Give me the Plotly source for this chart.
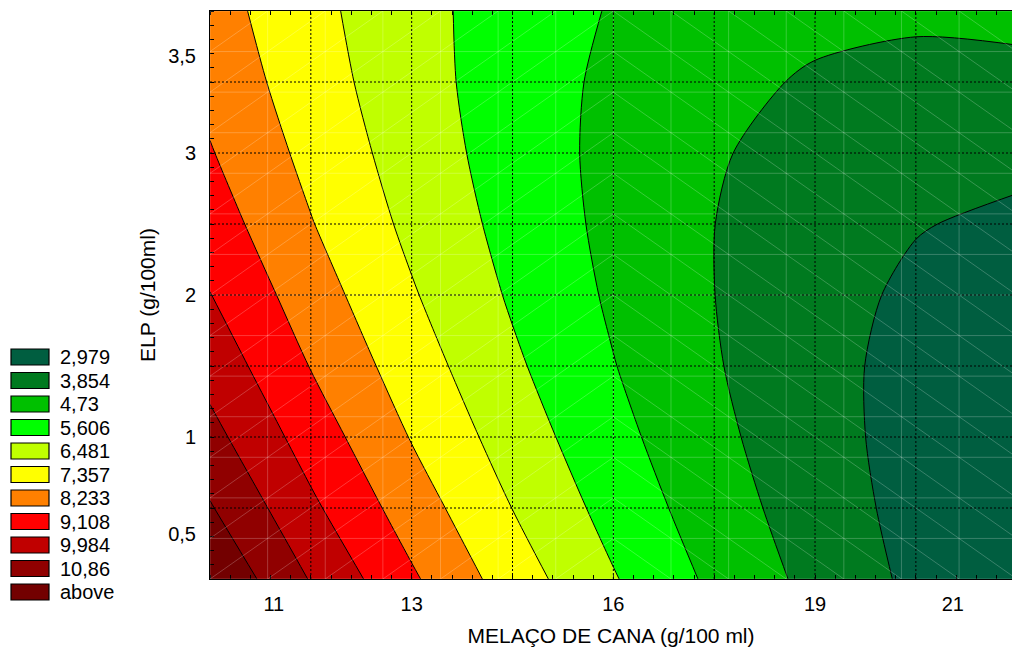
import plotly.graph_objects as go

# Sugar-cane molasses (g/100 ml) and ELP (g/100 ml) sampling grid
melaco = [10.0, 11.5, 13.0, 14.5, 16.0, 17.5, 19.0, 20.5, 22.0]
elp = [0.0, 0.5, 1.0, 1.5, 2.0, 2.5, 3.0, 3.5, 4.0]

# Response surface values, one row per ELP level (bottom to top)
resposta = [
    [11.67, 9.93, 8.36, 6.93, 5.67, 4.55, 3.60, 2.79, 2.15],
    [10.93, 9.28, 7.80, 6.47, 5.29, 4.27, 3.41, 2.70, 2.14],
    [10.26, 8.71, 7.31, 6.07, 4.99, 4.06, 3.29, 2.67, 2.21],
    [9.66, 8.20, 6.90, 5.75, 4.76, 3.92, 3.24, 2.71, 2.34],
    [9.13, 7.77, 6.56, 5.50, 4.60, 3.86, 3.27, 2.83, 2.55],
    [8.67, 7.40, 6.28, 5.32, 4.51, 3.86, 3.36, 3.02, 2.83],
    [8.29, 7.11, 6.08, 5.21, 4.49, 3.93, 3.53, 3.27, 3.18],
    [7.97, 6.88, 5.95, 5.17, 4.55, 4.08, 3.76, 3.60, 3.60],
    [7.73, 6.73, 5.89, 5.20, 4.67, 4.29, 4.07, 4.00, 4.09],
]

# Contour levels and legend entries
niveis = [2.979, 3.854, 4.73, 5.606, 6.481, 7.357, 8.233, 9.108, 9.984, 10.86]
legenda = ["2,979", "3,854", "4,73", "5,606", "6,481", "7,357",
           "8,233", "9,108", "9,984", "10,86", "above"]
cores = ["#005E40", "#007A1F", "#00C000", "#00FF00", "#C0FF00", "#FFFF00",
         "#FF8000", "#FF0000", "#C00000", "#900000", "#730000"]

# Axis labels (design points)
x_ticks = [10.95, 13, 16, 19, 21.05]
x_ticktext = ["11", "13", "16", "19", "21"]
y_ticks = [0.32, 1, 2, 3, 3.68]
y_ticktext = ["0,5", "1", "2", "3", "3,5"]

FONT = "Liberation Sans, Arial, sans-serif"
W, H = 1012, 652
ML, MR, MT, MB = 210, 0, 11, 73
X_RANGE = [10, 21.93]
Y_RANGE = [0, 4]

passo = (niveis[-1] - niveis[0]) / (len(niveis) - 1)
n = len(cores)
colorscale = []
for i, c in enumerate(cores):
    colorscale.append([i / n, c])
    colorscale.append([(i + 1) / n, c])

fig = go.Figure()
fig.add_trace(go.Contour(
    x=melaco, y=elp, z=resposta,
    zauto=False, zmin=niveis[0] - passo, zmax=niveis[-1] + passo,
    colorscale=colorscale, showscale=False,
    contours=dict(start=niveis[0], end=niveis[-1] + passo / 2,
                  size=passo, coloring="fill"),
    line=dict(color="black", width=1, smoothing=0.8),
    hoverinfo="x+y+z",
))

shapes = []

# Faint triangulated mesh of the surface (14 x 14 cells)
nx = ny = 14
x0, x1 = 10.0, 22.0
y0, y1 = 0.0, 4.0
dx = (x1 - x0) / nx
dy = (y1 - y0) / ny
path = []
for i in range(nx + 1):
    xv = x0 + i * dx
    path.append(f"M{xv},{y0}L{xv},{y1}")
for j in range(ny + 1):
    yv = y0 + j * dy
    path.append(f"M{x0},{yv}L{x1},{yv}")
for i in range(nx):
    for j in range(ny):
        xa = x0 + i * dx
        ya = y0 + j * dy
        if i < nx // 2:
            path.append(f"M{xa},{ya}L{xa + dx},{ya + dy}")
        else:
            path.append(f"M{xa},{ya + dy}L{xa + dx},{ya}")
shapes.append(dict(type="path", xref="x", yref="y", path="".join(path),
                   line=dict(color="rgba(255,255,255,0.22)", width=1),
                   layer="above"))

# Dotted major grid
for k in range(1, 8):
    xv = 10 + 1.5 * k
    shapes.append(dict(type="line", xref="x", yref="paper", x0=xv, x1=xv, y0=0, y1=1,
                       line=dict(color="black", width=1, dash="2px,2px"), layer="above"))
    yv = 0.5 * k
    shapes.append(dict(type="line", xref="paper", yref="y", x0=0, x1=1, y0=yv, y1=yv,
                       line=dict(color="black", width=1, dash="2px,2px"), layer="above"))

# Legend drawn in the left margin
pw = W - ML - MR
ph = H - MT - MB


def px_x(p):
    return (p - ML) / pw


def px_y(p):
    return 1 - (p - MT) / ph


annotations = []
for k, (lab, c) in enumerate(zip(legenda, cores)):
    cy = 357 + 23.5 * k
    shapes.append(dict(type="rect", xref="paper", yref="paper",
                       x0=px_x(11), x1=px_x(49), y0=px_y(cy + 8), y1=px_y(cy - 8),
                       fillcolor=c, line=dict(color="black", width=1.2), layer="above"))
    annotations.append(dict(xref="paper", yref="paper", x=px_x(58), y=px_y(cy),
                            text=lab, showarrow=False, xanchor="left", yanchor="middle",
                            font=dict(family=FONT, size=20, color="black")))

fig.update_layout(
    width=W, height=H,
    margin=dict(l=ML, r=MR, t=MT, b=MB, pad=0),
    paper_bgcolor="white", plot_bgcolor="white",
    showlegend=False,
    font=dict(family=FONT, size=20, color="black"),
    shapes=shapes,
    annotations=annotations,
    xaxis=dict(
        range=X_RANGE, tickmode="array", tickvals=x_ticks, ticktext=x_ticktext,
        ticks="", showgrid=False, zeroline=False,
        showline=True, linecolor="black", linewidth=1, mirror="ticks",
        ticklabelstandoff=7,
        tickfont=dict(family=FONT, size=20),
        minor=dict(tickmode="linear", tick0=10, dtick=0.3, ticks="inside",
                   ticklen=4, tickcolor="black", showgrid=False),
        title=dict(text="MELAÇO DE CANA (g/100 ml)",
                   font=dict(family=FONT, size=21), standoff=14),
    ),
    yaxis=dict(
        range=Y_RANGE, tickmode="array", tickvals=y_ticks, ticktext=y_ticktext,
        ticks="", showgrid=False, zeroline=False,
        showline=True, linecolor="black", linewidth=1, mirror=False,
        ticklabelstandoff=9,
        tickfont=dict(family=FONT, size=20),
        minor=dict(tickmode="linear", tick0=0, dtick=0.1, ticks="inside",
                   ticklen=4, tickcolor="black", showgrid=False),
        title=dict(text="ELP (g/100ml)",
                   font=dict(family=FONT, size=21), standoff=6),
    ),
)

fig.write_html("out.html")
